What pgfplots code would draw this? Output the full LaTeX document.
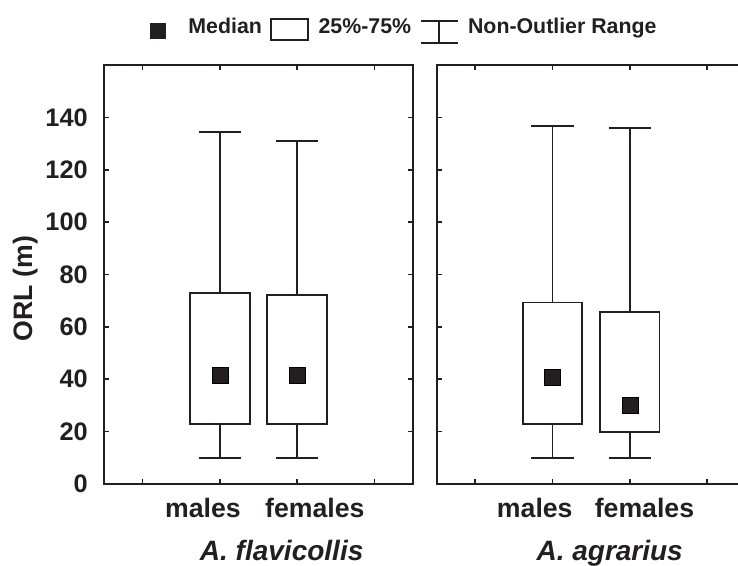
\documentclass[border=0pt]{standalone}
\usepackage{fontspec}
\setmainfont{Liberation Sans}
\usepackage{pgfplots}
\pgfplotsset{compat=1.18}
\definecolor{ink}{HTML}{231F20}
\pgfplotsset{
  panel/.style={
    scale only axis, width=231.75pt, height=314.25pt,
    xmin=0, xmax=4, ymin=0, ymax=160,
    xtick={0.5,1.5,2.5,3.5}, xticklabels={},
    ytick={0,20,...,140},
    tick align=inside, xtick pos=both, ytick pos=both,
    major tick length=4pt,
    axis line style={ink, line width=1.4pt},
    every tick/.append style={ink, line width=1.2pt},
    extra x tick style={major tick length=0pt},
    xticklabel style={anchor=base, yshift=-24.75pt, font=\bfseries\fontsize{20}{24}\selectfont, text=ink},
    yticklabel style={anchor=east, inner sep=0pt, xshift=-12pt, font=\bfseries\fontsize{19}{23}\selectfont, text=ink},
    /pgf/number format/assume math mode=true,
    xlabel style={anchor=base, font=\bfseries\itshape\fontsize{21}{25}\selectfont, text=ink},
    clip=false,
  },
  wh/.style={forget plot, draw=ink, line width=1.4pt, mark=none},
  bx/.style={forget plot, draw=ink, fill=white, line width=1.4pt, mark=none, line join=miter},
  med/.style={forget plot, only marks, mark=square*, mark size=6pt, mark options={fill=ink, draw=none}},
}
\begin{document}
\begin{tikzpicture}
\begin{axis}[panel,
  at={(78pt,60.75pt)}, anchor=south west,
  extra x ticks={1.28,2.73}, extra x tick labels={males,females},
  xlabel={A. flavicollis},
  xlabel style={at={(axis description cs:0.575,0)}, yshift=-57pt},
  ylabel={ORL (m)},
  ylabel style={at={(axis description cs:-0.233,0.4666)}, anchor=base, font=\bfseries\fontsize{20}{24}\selectfont, text=ink},
  legend columns=3,
  legend style={at={(axis description cs:0.1476,1.0811)}, anchor=west, draw=none, fill=none,
    inner sep=0pt, outer sep=0pt, column sep=0pt, row sep=0pt,
    font=\bfseries\fontsize{16}{19}\selectfont, text=ink,
    nodes={inner sep=0pt, outer sep=0pt, text depth=0pt},
    cells={anchor=base west}},
]
\addlegendimage{legend image code/.code={\fill[ink] (0pt,-3.9pt) rectangle (11.4pt,7.5pt); \path[draw=none, fill=none] (0pt,0pt) -- (28.95pt,0pt);}}
\addlegendentry{Median}
\addlegendimage{legend image code/.code={\draw[ink, fill=none, line width=1.5pt] (0pt,-5.2pt) rectangle (27.6pt,10.9pt); \path[draw=none, fill=none] (-6.9pt,0pt) -- (35.6pt,0pt);}}
\addlegendentry{25\%-75\%}
\addlegendimage{legend image code/.code={\draw[ink, line width=1.5pt] (0pt,9.5pt) -- (27.7pt,9.5pt) (13.85pt,9.5pt) -- (13.85pt,-7.2pt) (0pt,-7.2pt) -- (27.7pt,-7.2pt); \path[draw=none, fill=none] (-7.3pt,0pt) -- (35.4pt,0pt);}}
\addlegendentry{Non-Outlier Range}
% A. flavicollis males: whiskers 9.8-134.5, box 22.9-72.8, median 41.6
\addplot[wh] coordinates {(1.5,72.8) (1.5,134.5)};
\addplot[wh] coordinates {(1.225,134.5) (1.775,134.5)};
\addplot[wh] coordinates {(1.5,22.9) (1.5,9.8)};
\addplot[wh] coordinates {(1.225,9.8) (1.775,9.8)};
\addplot[bx] coordinates {(1.115,22.9) (1.885,22.9) (1.885,72.8) (1.115,72.8)} -- cycle;
\addplot[med] coordinates {(1.5,41.6)};
% A. flavicollis females: whiskers 10-131, box 22.9-72.1, median 41.6
\addplot[wh] coordinates {(2.5,72.1) (2.5,131)};
\addplot[wh] coordinates {(2.225,131) (2.775,131)};
\addplot[wh] coordinates {(2.5,22.9) (2.5,10)};
\addplot[wh] coordinates {(2.225,10) (2.775,10)};
\addplot[bx] coordinates {(2.115,22.9) (2.885,22.9) (2.885,72.1) (2.115,72.1)} -- cycle;
\addplot[med] coordinates {(2.5,41.6)};
\end{axis}
\begin{axis}[panel,
  at={(327.5pt,60.75pt)}, anchor=south west,
  yticklabels={},
  extra x ticks={1.27,2.69}, extra x tick labels={males,females},
  xlabel={A. agrarius},
  xlabel style={at={(axis description cs:0.56,0)}, yshift=-57pt},
]
% A. agrarius males: whiskers 9.8-136.6, box 22.9-69.3, median 40.6
\addplot[wh] coordinates {(1.5,69.3) (1.5,136.6)};
\addplot[wh] coordinates {(1.225,136.6) (1.775,136.6)};
\addplot[wh] coordinates {(1.5,22.9) (1.5,9.8)};
\addplot[wh] coordinates {(1.225,9.8) (1.775,9.8)};
\addplot[bx] coordinates {(1.115,22.9) (1.885,22.9) (1.885,69.3) (1.115,69.3)} -- cycle;
\addplot[med] coordinates {(1.5,40.6)};
% A. agrarius females: whiskers 10-135.9, box 20-65.8, median 29.9
\addplot[wh] coordinates {(2.5,65.8) (2.5,135.9)};
\addplot[wh] coordinates {(2.225,135.9) (2.775,135.9)};
\addplot[wh] coordinates {(2.5,20) (2.5,10)};
\addplot[wh] coordinates {(2.225,10) (2.775,10)};
\addplot[bx] coordinates {(2.115,20) (2.885,20) (2.885,65.8) (2.115,65.8)} -- cycle;
\addplot[med] coordinates {(2.5,29.9)};
\end{axis}
\pgfresetboundingbox
\path[use as bounding box] (0pt,0pt) rectangle (553.5pt,423.75pt);
\end{tikzpicture}
\end{document}
